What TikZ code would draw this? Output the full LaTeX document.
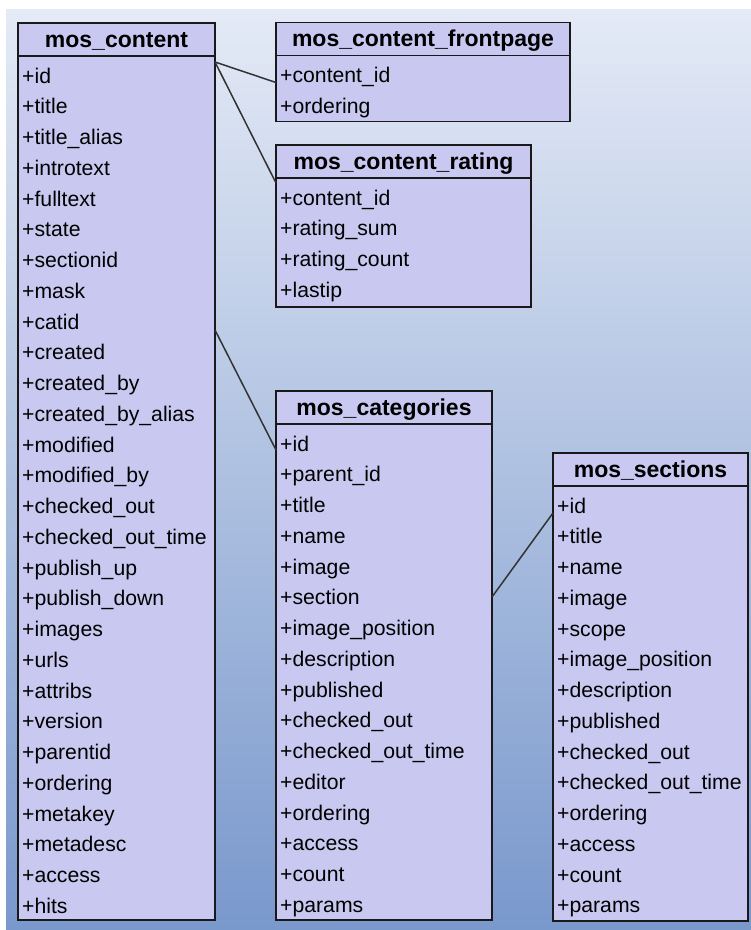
\documentclass[tikz,border=0pt]{standalone}
\usepackage{fontspec}
\setmainfont{Liberation Sans}
\usetikzlibrary{positioning}

\definecolor{tablefill}{RGB}{201,200,240}
\definecolor{bgtop}{RGB}{228,234,246}
\definecolor{bgmid}{RGB}{181,198,226}
\definecolor{bgbottom}{RGB}{121,152,204}

\begin{document}
\begin{tikzpicture}[x=1pt, y=-1pt,
	tablehead/.style={draw=black!90, line width=1.5pt, fill=tablefill, outer sep=0pt, inner sep=0pt,
		minimum height=33pt, text height=17pt, text depth=2pt, font=\fontsize{23}{26}\selectfont\bfseries},
	tablebody/.style={draw=black!90, line width=1.5pt, fill=tablefill, outer sep=0pt, inner sep=0pt,
		below=0pt of #1},
	field/.style={anchor=base west, inner sep=0pt, font=\fontsize{21.2}{25}\selectfont},
	link/.style={draw=black!80, line width=1.5pt}]
	\useasboundingbox (0,0) rectangle (751,930);
	\fill[white] (0,0) rectangle (751,930);
	\shade[top color=bgtop, middle color=bgmid, bottom color=bgbottom] (6,9) rectangle (751,930);

	\node[tablehead, minimum width=197pt] (content) at (116.5,39.5) {mos\_content};
	\node[tablebody=content, minimum width=197pt, minimum height=864pt] (content-body) {};
	\node[tablehead, minimum width=294pt] (frontpage) at (423,39) {mos\_content\_frontpage};
	\node[tablebody=frontpage, minimum width=294pt, minimum height=66pt] (frontpage-body) {};
	\node[tablehead, minimum width=255pt] (rating) at (403.5,161.5) {mos\_content\_rating};
	\node[tablebody=rating, minimum width=255pt, minimum height=129pt] (rating-body) {};
	\node[tablehead, minimum width=216pt] (categories) at (384,407.5) {mos\_categories};
	\node[tablebody=categories, minimum width=216pt, minimum height=496pt] (categories-body) {};
	\node[tablehead, minimum width=195pt] (sections) at (650.5,469.5) {mos\_sections};
	\node[tablebody=sections, minimum width=195pt, minimum height=435pt] (sections-body) {};

	\foreach \f [count=\i] in {id,title,title\_alias,introtext,fulltext,state,sectionid,mask,catid,created,
		created\_by,created\_by\_alias,modified,modified\_by,checked\_out,checked\_out\_time,publish\_up,
		publish\_down,images,urls,attribs,version,parentid,ordering,metakey,metadesc,access,hits}
		\node[field] (content-\i) at ([xshift=4pt, yshift={-(27+(\i-1)*30.75)*1pt}]content-body.north west) {+\f};
	\foreach \f [count=\i] in {content\_id,ordering}
		\node[field] (frontpage-\i) at ([xshift=4pt, yshift={-(27+(\i-1)*30.75)*1pt}]frontpage-body.north west) {+\f};
	\foreach \f [count=\i] in {content\_id,rating\_sum,rating\_count,lastip}
		\node[field] (rating-\i) at ([xshift=4pt, yshift={-(27+(\i-1)*30.75)*1pt}]rating-body.north west) {+\f};
	\foreach \f [count=\i] in {id,parent\_id,title,name,image,section,image\_position,description,published,
		checked\_out,checked\_out\_time,editor,ordering,access,count,params}
		\node[field] (categories-\i) at ([xshift=4pt, yshift={-(27+(\i-1)*30.75)*1pt}]categories-body.north west) {+\f};
	\foreach \f [count=\i] in {id,title,name,image,scope,image\_position,description,published,
		checked\_out,checked\_out\_time,ordering,access,count,params}
		\node[field] (sections-\i) at ([xshift=4pt, yshift={-(27+(\i-1)*30.75)*1pt}]sections-body.north west) {+\f};

	\draw[link] ([yshift=-6pt]content-body.north east) -- ([yshift=-27pt]frontpage-body.north west);
	\draw[link] ([yshift=-6pt]content-body.north east) -- ([yshift=-5pt]rating-body.north west);
	\draw[link] ([yshift=-274pt]content-body.north east) -- ([yshift=-26pt]categories-body.north west);
	\draw[link] ([yshift=-173pt]categories-body.north east) -- ([yshift=-27pt]sections-body.north west);
\end{tikzpicture}
\end{document}
